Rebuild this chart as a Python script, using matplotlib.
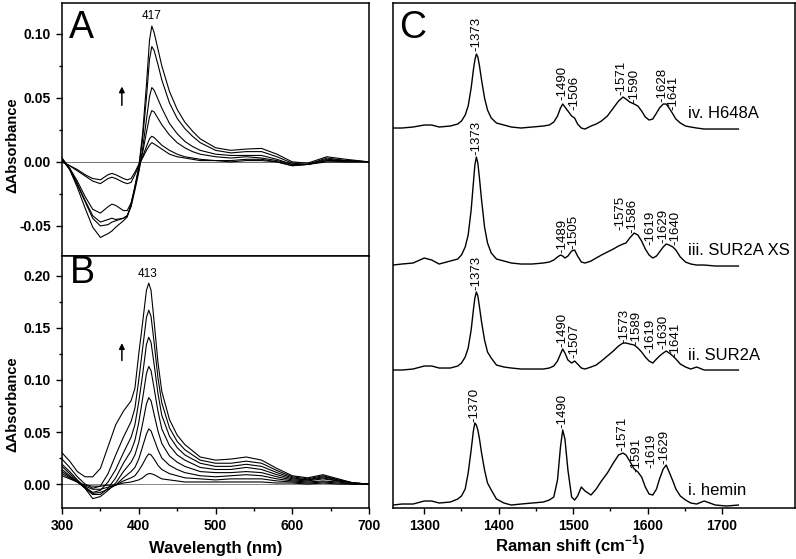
import matplotlib
matplotlib.use('Agg')
import matplotlib.pyplot as plt
from matplotlib.ticker import MultipleLocator, FixedLocator, FormatStrFormatter

plt.rcParams['font.family'] = 'Liberation Sans'
plt.rcParams['font.weight'] = 'bold'   # tick labels and axis titles are bold
plt.rcParams['mathtext.fontset'] = 'custom'
plt.rcParams['mathtext.rm'] = 'Liberation Sans:bold'
plt.rcParams['mathtext.bf'] = 'Liberation Sans:bold'
plt.rcParams['axes.unicode_minus'] = False

# ---- Panel A: difference spectra, peak at 417 nm ----
wl_a = [300, 310, 320, 330, 340, 350, 360, 365, 370, 380, 385, 390, 395, 400, 405, 410,
        414, 417, 420, 425, 430, 440, 450, 460, 470, 480, 500, 520, 540, 560, 580, 600,
        620, 645, 670, 700]
a_1 = [0.003, -0.006, -0.020, -0.036, -0.051, -0.059, -0.056, -0.054, -0.051, -0.046, -0.043,
       -0.033, -0.019, -0.004, 0.022, 0.060, 0.095, 0.106, 0.101, 0.088, 0.075, 0.055, 0.041,
       0.031, 0.024, 0.018, 0.011, 0.009, 0.010, 0.0105, 0.006, 0.000, -0.001, 0.004, 0.002, 0.0]
a_2 = [0.002, -0.006, -0.018, -0.031, -0.044, -0.050, -0.049, -0.047, -0.046, -0.044, -0.042,
       -0.034, -0.020, -0.005, 0.018, 0.050, 0.080, 0.090, 0.087, 0.076, 0.064, 0.046, 0.034,
       0.026, 0.020, 0.015, 0.009, 0.007, 0.008, 0.008, 0.004, -0.001, -0.002, 0.003, 0.001, 0.0]
a_3 = [0.003, -0.005, -0.017, -0.030, -0.042, -0.047, -0.045, -0.044, -0.045, -0.044, -0.042,
       -0.035, -0.022, -0.008, 0.010, 0.033, 0.051, 0.058, 0.056, 0.049, 0.042, 0.030, 0.022,
       0.016, 0.012, 0.009, 0.006, 0.005, 0.005, 0.005, 0.002, -0.002, -0.002, 0.002, 0.001, 0.0]
a_4 = [0.002, -0.005, -0.015, -0.027, -0.037, -0.040, -0.035, -0.033, -0.034, -0.038, -0.038,
       -0.032, -0.020, -0.007, 0.007, 0.023, 0.035, 0.040, 0.039, 0.034, 0.029, 0.021, 0.015,
       0.011, 0.008, 0.006, 0.004, 0.003, 0.004, 0.003, 0.001, -0.002, -0.002, 0.001, 0.001, 0.0]
a_5 = [0.000, -0.003, -0.007, -0.011, -0.015, -0.017, -0.013, -0.012, -0.013, -0.016, -0.017,
       -0.016, -0.010, -0.003, 0.004, 0.012, 0.018, 0.020, 0.019, 0.016, 0.013, 0.009, 0.006,
       0.004, 0.003, 0.002, 0.001, 0.001, 0.002, 0.002, 0.000, -0.003, -0.002, 0.001, 0.000, 0.0]
a_6 = [0.000, -0.003, -0.006, -0.010, -0.013, -0.014, -0.010, -0.009, -0.010, -0.013, -0.014,
       -0.013, -0.008, -0.002, 0.003, 0.009, 0.013, 0.015, 0.014, 0.012, 0.010, 0.006, 0.004,
       0.003, 0.002, 0.001, 0.001, 0.000, 0.001, 0.001, 0.000, -0.003, -0.002, 0.000, 0.000, 0.0]
zero_wl = [300, 700]
zero_abs = [0.0, 0.0]

# ---- Panel B: difference spectra, peak at 413 nm ----
wl_b = [300, 310, 320, 330, 340, 350, 360, 370, 380, 390, 395, 400, 405, 410, 413, 416, 420,
        425, 430, 440, 450, 460, 480, 500, 520, 540, 560, 580, 600, 620, 640, 660, 680, 700]
b_1 = [0.030, 0.022, 0.012, 0.007, 0.007, 0.015, 0.036, 0.057, 0.070, 0.080, 0.092, 0.125,
       0.155, 0.186, 0.193, 0.186, 0.156, 0.117, 0.089, 0.062, 0.047, 0.038, 0.026, 0.023,
       0.024, 0.026, 0.023, 0.015, 0.008, 0.006, 0.009, 0.005, 0.001, 0.0]
b_2 = [0.024, 0.016, 0.007, 0.000, -0.004, -0.002, 0.010, 0.028, 0.045, 0.060, 0.073, 0.100,
       0.130, 0.160, 0.167, 0.161, 0.136, 0.102, 0.078, 0.054, 0.041, 0.033, 0.023, 0.020,
       0.020, 0.022, 0.020, 0.013, 0.007, 0.005, 0.008, 0.004, 0.001, 0.0]
b_3 = [0.019, 0.012, 0.004, -0.003, -0.008, -0.006, 0.002, 0.014, 0.030, 0.045, 0.057, 0.079,
       0.105, 0.134, 0.141, 0.136, 0.115, 0.087, 0.066, 0.046, 0.035, 0.028, 0.020, 0.017,
       0.017, 0.019, 0.017, 0.011, 0.006, 0.004, 0.007, 0.004, 0.001, 0.0]
b_4 = [0.017, 0.010, 0.003, -0.004, -0.010, -0.010, -0.004, 0.006, 0.020, 0.032, 0.042, 0.059,
       0.082, 0.106, 0.113, 0.109, 0.092, 0.070, 0.053, 0.037, 0.028, 0.023, 0.016, 0.014,
       0.014, 0.016, 0.014, 0.009, 0.005, 0.004, 0.006, 0.003, 0.001, 0.0]
b_5 = [0.014, 0.008, 0.002, -0.004, -0.014, -0.012, -0.006, 0.001, 0.012, 0.021, 0.028, 0.040,
       0.058, 0.077, 0.083, 0.080, 0.067, 0.051, 0.039, 0.027, 0.021, 0.017, 0.012, 0.011,
       0.011, 0.012, 0.011, 0.007, 0.004, 0.003, 0.005, 0.003, 0.001, 0.0]
b_6 = [0.012, 0.007, 0.002, -0.003, -0.009, -0.008, -0.005, -0.001, 0.006, 0.012, 0.016, 0.024,
       0.036, 0.048, 0.053, 0.051, 0.043, 0.033, 0.025, 0.018, 0.014, 0.011, 0.008, 0.007,
       0.008, 0.009, 0.008, 0.005, 0.003, 0.002, 0.003, 0.002, 0.000, 0.0]
b_7 = [0.010, 0.006, 0.002, -0.002, -0.005, -0.005, -0.003, -0.001, 0.003, 0.006, 0.008, 0.013,
       0.019, 0.026, 0.029, 0.028, 0.024, 0.018, 0.014, 0.010, 0.008, 0.006, 0.005, 0.004,
       0.005, 0.005, 0.005, 0.003, 0.002, 0.001, 0.002, 0.001, 0.000, 0.0]
b_8 = [0.008, 0.005, 0.002, -0.001, -0.002, -0.002, -0.001, -0.001, 0.001, 0.002, 0.003, 0.004,
       0.006, 0.009, 0.010, 0.010, 0.009, 0.007, 0.005, 0.004, 0.003, 0.002, 0.002, 0.002,
       0.002, 0.002, 0.002, 0.001, 0.001, 0.000, 0.001, 0.000, 0.000, 0.0]

# ---- Panel C: resonance Raman spectra (arbitrary units above each baseline) ----
raman_nu = [1258, 1270, 1285, 1300, 1310, 1320, 1335, 1345, 1350, 1355,
            1359, 1363, 1366, 1368, 1370, 1372, 1374, 1377, 1381, 1385,
            1390, 1397, 1407, 1417, 1430, 1445, 1460, 1468, 1474, 1479,
            1483, 1486, 1489, 1493, 1498, 1502, 1506, 1511, 1516, 1524,
            1531, 1538, 1546, 1554, 1561, 1567, 1571, 1576, 1582, 1587,
            1592, 1597, 1602, 1607, 1612, 1616, 1621, 1625, 1629, 1634,
            1638, 1644, 1651, 1658, 1666, 1676, 1691, 1706, 1722]
hemin = [0, 1, 1, 4, 4, 2, 3, 6, 9, 16,
         32, 55, 74, 82, 80, 75, 67, 52, 35, 22,
         15, 6, 2, 0, 1, 2, 3, 5, 8, 25,
         58, 75, 66, 35, 8, 5, 9, 18, 14, 10,
         16, 24, 32, 42, 50, 52, 50, 44, 36, 33,
         28, 18, 11, 10, 16, 26, 36, 40, 33, 24,
         16, 9, 5, 2, 1, 4, 0, -1, 0]
sur2a = [0, 0, 1, 4, 4, 2, 2, 4, 7, 13,
         22, 40, 60, 72, 78, 74, 64, 48, 30, 18,
         12, 5, 3, 2, 1, 1, 1, 2, 4, 9,
         16, 21, 17, 10, 7, 9, 6, 2, 1, 3,
         5, 9, 14, 19, 24, 27, 27, 26, 25, 22,
         18, 13, 9, 7, 11, 14, 17, 19, 17, 14,
         11, 6, 3, 1, 3, 0, 0, 0, 0]
sur2a_xs = [0, 1, 2, 7, 5, 1, 4, 6, 10, 18,
            30, 55, 82, 100, 108, 102, 88, 65, 38, 22,
            12, 6, 4, 2, 1, 1, 2, 3, 5, 8,
            10, 9, 7, 9, 14, 15, 9, 3, 2, 4,
            7, 10, 13, 16, 19, 21, 22, 27, 32, 30,
            24, 16, 10, 7, 9, 13, 18, 21, 20, 18,
            15, 8, 3, 1, 0, 0, -1, -1, -1]
h648a = [0, 0, 1, 3, 3, 1, 2, 4, 7, 13,
         22, 40, 58, 68, 74, 71, 63, 48, 30, 18,
         10, 5, 3, 1, 0, 1, 2, 3, 6, 12,
         20, 24, 21, 17, 12, 10, 4, 0, -1, 2,
         4, 7, 12, 20, 27, 31, 29, 26, 24, 22,
         17, 11, 8, 9, 15, 20, 24, 24, 20, 14,
         9, 5, 2, 1, 0, -1, -1, -1, -1]
raman_offsets = [3, 138, 243, 380]
raman_names = ['i. hemin', 'ii. SUR2A', 'iii. SUR2A XS', 'iv. H648A']

# peak labels: (text, shift, height of label foot)
peaks_i = [('1370', 1368, 86), ('1490', 1485, 80), ('1571', 1566, 57),
           ('1591', 1585, 36), ('1619', 1605, 40), ('1629', 1622, 44)]
peaks_ii = [('1373', 1369.5, 218), ('1490', 1485, 161), ('1507', 1501, 150),
            ('1573', 1569, 165), ('1589', 1585, 163), ('1619', 1604, 155),
            ('1630', 1621, 159), ('1641', 1638, 151)]
peaks_iii = [('1373', 1370, 353), ('1489', 1485, 255), ('1505', 1500, 259),
             ('1575', 1563, 278), ('1586', 1579, 275), ('1619', 1604, 263),
             ('1629', 1621, 265), ('1640', 1638, 263)]
peaks_iv = [('1373', 1369.5, 457), ('1490', 1485, 408), ('1506', 1501, 398),
            ('1571', 1565, 413), ('1590', 1582, 405), ('1628', 1620, 406),
            ('1641', 1635, 398)]

fig = plt.figure(figsize=(7.96, 5.59), dpi=100)
axA = fig.add_axes([0.0779, 0.5420, 0.3857, 0.4526])
axB = fig.add_axes([0.0779, 0.0912, 0.3857, 0.4508])
axC = fig.add_axes([0.4937, 0.0912, 0.5050, 0.9034])

for ax in (axA, axB, axC):
    for sp in ax.spines.values():
        sp.set_linewidth(1.1)
    ax.tick_params(which='both', direction='out', width=1.0, top=False, right=False)
    ax.tick_params(which='major', length=4.5, labelsize=10)
    ax.tick_params(which='minor', length=2.5)

# Panel A
axA.plot(zero_wl, zero_abs, color='0.35', lw=0.6)
for curve in (a_1, a_2, a_3, a_4, a_5, a_6):
    axA.plot(wl_a, curve, color='black', lw=0.8)
axA.set_xlim(300, 700)
axA.set_ylim(-0.0735, 0.124)
axA.yaxis.set_major_locator(MultipleLocator(0.05))
axA.yaxis.set_minor_locator(MultipleLocator(0.025))
axA.yaxis.set_major_formatter(FormatStrFormatter('%.2f'))
axA.tick_params(axis='x', which='both', bottom=False, labelbottom=False)
axA.set_ylabel('ΔAbsorbance', fontsize=10.5, fontweight='bold')
axA.yaxis.set_label_coords(-0.14, 0.44)
axA.text(0.023, 0.862, 'A', transform=axA.transAxes, fontsize=27, fontweight='normal',
         va='baseline', ha='left')
axA.text(417, 0.109, '417', fontsize=8.5, fontweight='normal', ha='center', va='bottom')
axA.annotate('', xy=(378, 0.061), xytext=(378, 0.042),
             arrowprops=dict(arrowstyle='-|>', color='black', lw=1.1, mutation_scale=8))

# Panel B
axB.plot(zero_wl, zero_abs, color='0.45', lw=0.6)
for curve in (b_1, b_2, b_3, b_4, b_5, b_6, b_7, b_8):
    axB.plot(wl_b, curve, color='black', lw=0.8)
axB.set_xlim(300, 700)
axB.set_ylim(-0.023, 0.219)
axB.xaxis.set_major_locator(MultipleLocator(100))
axB.xaxis.set_minor_locator(MultipleLocator(50))
axB.yaxis.set_major_locator(MultipleLocator(0.05))
axB.yaxis.set_minor_locator(MultipleLocator(0.025))
axB.yaxis.set_major_formatter(FormatStrFormatter('%.2f'))
axB.set_ylabel('ΔAbsorbance', fontsize=10.5, fontweight='bold')
axB.yaxis.set_label_coords(-0.14, 0.414)
axB.set_xlabel('Wavelength (nm)', fontsize=12, fontweight='bold', labelpad=6)
axB.text(0.025, 0.893, 'B', transform=axB.transAxes, fontsize=27, fontweight='normal',
         va='baseline', ha='left')
axB.text(412, 0.196, '413', fontsize=8.5, fontweight='normal', ha='center', va='bottom')
axB.annotate('', xy=(378, 0.138), xytext=(378, 0.116),
             arrowprops=dict(arrowstyle='-|>', color='black', lw=1.1, mutation_scale=8))

# Panel C
spectra = [hemin, sur2a, sur2a_xs, h648a]
peak_sets = [peaks_i, peaks_ii, peaks_iii, peaks_iv]
for spec, off, name, peaks in zip(spectra, raman_offsets, raman_names, peak_sets):
    axC.plot(raman_nu, [v + off for v in spec], color='black', lw=1.0)
    axC.text(1654, off + 15, name, fontsize=12, fontweight='normal', ha='left', va='center')
    for txt, x, y in peaks:
        axC.text(x, y, '-' + txt, rotation=90, fontsize=9.5, fontweight='normal',
                 ha='center', va='bottom')
axC.set_xlim(1258, 1798)
axC.set_ylim(0, 505)
axC.xaxis.set_major_locator(FixedLocator([1300, 1400, 1500, 1600, 1700]))
axC.xaxis.set_minor_locator(FixedLocator([1350, 1450, 1550, 1650]))
axC.set_yticks([])
axC.set_xlabel(r'Raman shift (cm$^{\mathbf{-1}}$)', fontsize=12, fontweight='bold')
axC.xaxis.set_label_coords(0.44, -0.05)
axC.text(0.015, 0.931, 'C', transform=axC.transAxes, fontsize=27, fontweight='normal',
         va='baseline', ha='left')

fig.savefig('out.png', dpi=100)
